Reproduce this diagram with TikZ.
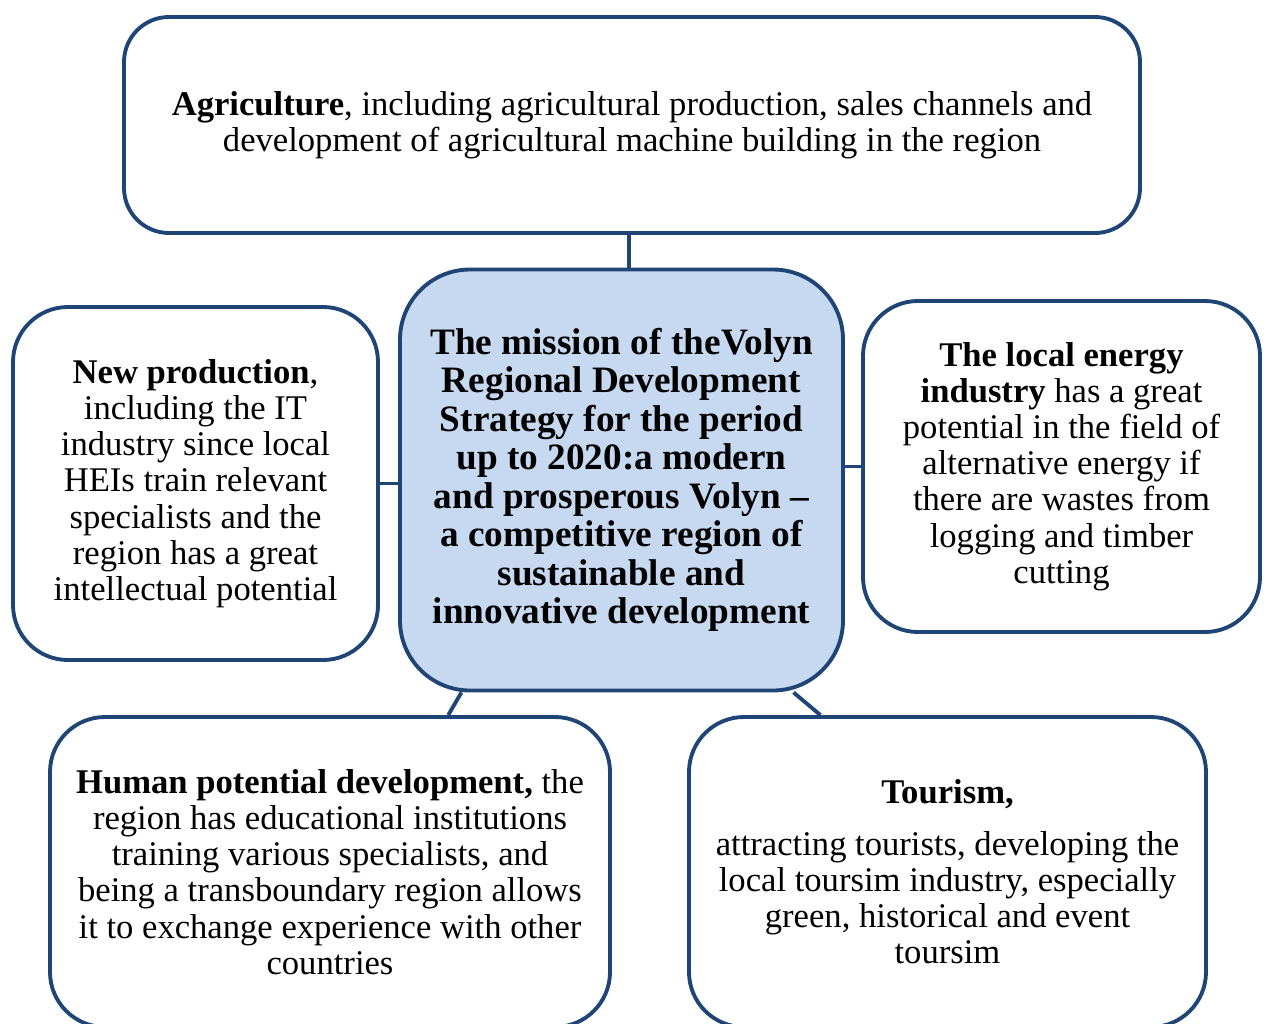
\documentclass[tikz,border=0pt]{standalone}
\usepackage{fontspec}
\setmainfont{Liberation Serif}
\usepackage{tikz}
\usetikzlibrary{positioning}
\definecolor{frameblue}{RGB}{31,69,119}
\definecolor{missionfill}{RGB}{198,217,240}
\tikzset{
    areabox/.style={
        draw=frameblue,
        line width=2.2pt,
        fill=white,
        rounded corners=1.1cm,
        align=center,
        inner sep=0pt,
        font=\fontsize{19.7}{20.6}\selectfont
    },
    % centre box with the mission statement
    missionbox/.style={
        areabox,
        fill=missionfill,
        rounded corners=1.4cm,
        font=\fontsize{21.2}{21.9}\selectfont\bfseries
    },
    link/.style={
        draw=frameblue,
        line width=2.2pt
    }
}

\begin{document}
\begin{tikzpicture}
\useasboundingbox (0,0) rectangle (25.28,-20.46);

% ===================== mission =====================
\node[missionbox, minimum width=8.86cm, minimum height=8.42cm] (mission) at (12.43,-9.6)
    {The mission of theVolyn\\ Regional Development\\ Strategy for the period\\ up to 2020:a modern\\
     and prosperous Volyn --\\ a competitive region of\\ sustainable and\\ innovative development};

% ===================== priority areas =====================
\node[areabox, minimum width=20.32cm, minimum height=4.32cm, rounded corners=0.9cm] (agri) at (12.64,-2.5)
    {\textbf{Agriculture}, including agricultural production, sales channels and\\
     development of agricultural machine building in the region};

\node[areabox, minimum width=7.3cm, minimum height=7.06cm] (newprod) at (3.91,-9.67)
    {\textbf{New production},\\ including the IT\\ industry since local\\ HEIs train relevant\\
     specialists and the\\ region has a great\\ intellectual potential};

\node[areabox, minimum width=7.94cm, minimum height=6.62cm] (energy) at (21.23,-9.33)
    {\textbf{The local energy}\\ \textbf{industry} has a great\\ potential in the field of\\
     alternative energy if\\ there are wastes from\\ logging and timber\\ cutting};

\node[areabox, minimum width=11.2cm, minimum height=6.2cm] (human) at (6.6,-17.44)
    {\textbf{Human potential development,} the\\ region has educational institutions\\
     training various specialists, and\\ being a transboundary region allows\\
     it to exchange experience with other\\ countries};

\node[areabox, minimum width=10.34cm, minimum height=6.2cm] (tourism) at (18.95,-17.44)
    {\textbf{Tourism,}\\[0.3cm] attracting tourists, developing the\\ local toursim industry, especially\\
     green, historical and event\\ toursim};

% ===================== links =====================
\draw[link] (mission.88.2) -- (mission.88.2 |- agri.south);
\draw[link] (newprod.east) -- (newprod.east -| mission.west);
\draw[link] (energy.west) -- (energy.west -| mission.east);
\draw[link] (mission.233) -- (human.53.5);
\draw[link] (mission.309.6) -- (tourism.129.6);

\end{tikzpicture}
\end{document}
